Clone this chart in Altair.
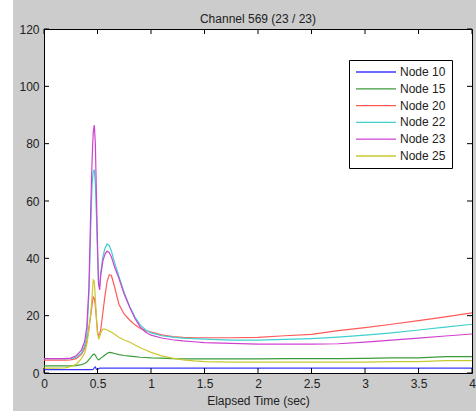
import altair as alt
import pandas as pd

# time grid (sec)
t = [0, 0.1, 0.2, 0.25, 0.3, 0.35, 0.38, 0.4, 0.42, 0.44, 0.45, 0.46, 0.47, 0.48, 0.49,
     0.5, 0.51, 0.52, 0.53, 0.55, 0.57, 0.59, 0.61, 0.63, 0.66, 0.7, 0.75, 0.8, 0.85,
     0.9, 0.95, 1.0, 1.1, 1.2, 1.3, 1.4, 1.5, 1.75, 2.0, 2.25, 2.5, 2.75, 3.0, 3.25,
     3.5, 3.75, 4.0]

node10 = [1.2, 1.2, 1.2, 1.2, 1.2, 1.2, 1.2, 1.2, 1.2, 1.2, 1.2, 1.3, 1.8, 2.1, 1.3,
          1.2, 1.5, 1.7, 1.7, 1.7, 1.7, 1.7, 1.7, 1.7, 1.7, 1.7, 1.7, 1.7, 1.7,
          1.7, 1.7, 1.7, 1.7, 1.7, 1.7, 1.7, 1.7, 1.7, 1.7, 1.7, 1.7, 1.7, 1.7, 1.7,
          1.7, 1.7, 1.7]
node15 = [2.5, 2.5, 2.5, 2.5, 2.6, 2.9, 3.3, 3.8, 4.7, 5.6, 6.1, 6.5, 6.6, 6.2, 5.5,
          4.9, 4.6, 4.8, 5.2, 5.7, 6.3, 6.9, 7.2, 7.1, 6.8, 6.4, 6.1, 5.9, 5.7,
          5.5, 5.4, 5.3, 5.2, 5.0, 4.9, 4.9, 4.9, 4.9, 4.9, 5.0, 5.0, 5.0, 5.1, 5.3,
          5.3, 5.7, 5.7]
node20 = [4.5, 4.5, 4.5, 4.6, 5.0, 6.5, 8.5, 11, 16, 21, 24, 26.5, 26, 23.5, 19,
          14.5, 13, 13.5, 15, 21, 27, 32, 34.3, 34, 30, 24, 20.5, 18.5, 16.8,
          15.5, 14.8, 14.3, 13.3, 12.7, 12.4, 12.3, 12.3, 12.3, 12.4, 13.0, 13.5, 14.8, 15.8, 17.0,
          18.3, 19.6, 21.0]
node22 = [5, 5, 5, 5, 5.5, 7, 9.5, 13, 28, 55, 66, 70, 71, 66, 55,
          42, 31, 30, 35, 40.5, 43.5, 45, 44.5, 42.5, 38.5, 33.7, 28, 23.3, 19.5,
          16.8, 15, 14, 13, 12.5, 12.2, 12, 11.8, 11.5, 11.5, 11.7, 12, 12.5, 13.2, 14,
          15, 16, 17]
node23 = [5, 5, 5, 5.2, 6, 8, 11, 16, 30, 62, 75, 84, 86.5, 80, 62,
          45, 31, 29, 34, 39, 41.5, 42.5, 42, 40.5, 37, 33, 27.5, 23, 19,
          16, 14.2, 13.2, 12.2, 11.6, 11.2, 10.9, 10.6, 10.3, 10.1, 10.1, 10.1, 10.2, 10.8, 11.5,
          12.2, 12.9, 13.6]
node25 = [1.7, 1.7, 1.8, 2.3, 3, 5, 7, 10, 15, 22, 27, 32.5, 32, 26, 19,
          14, 12, 12.5, 14, 15.3, 15.3, 15, 14.6, 14.2, 13.5, 12.5, 11.5, 10.8, 9.8,
          8.8, 8, 7.2, 6, 5.2, 4.6, 4.2, 4.0, 3.8, 3.8, 3.8, 3.8, 3.8, 3.8, 4.0,
          4.0, 4.3, 4.3]

series = ["Node 10", "Node 15", "Node 20", "Node 22", "Node 23", "Node 25"]
colors = ["#3a3aff", "#3c9c3c", "#ff5a5a", "#40d0d0", "#d040d0", "#c8c832"]
values = [node10, node15, node20, node22, node23, node25]

x_ticks = [0, 0.5, 1, 1.5, 2, 2.5, 3, 3.5, 4]
y_ticks = [0, 20, 40, 60, 80, 100, 120]

rows = []
for name, vals in zip(series, values):
    for i, (tt, v) in enumerate(zip(t, vals)):
        rows.append({"t": tt, "value": v, "node": name, "i": i})
df = pd.DataFrame(rows)

W, H = 428, 344
FONT = "Liberation Sans"

xscale = alt.Scale(domain=[0, 4], nice=False, zero=False)
yscale = alt.Scale(domain=[0, 120], nice=False)
x_axis = alt.Axis(values=x_ticks, tickSize=0, domain=False, grid=False, format="~g",
                  labelPadding=5, titlePadding=6, labelFlush=False)
y_axis = alt.Axis(values=y_ticks, tickSize=0, domain=False, grid=False, labelPadding=5)
XT = "Elapsed Time (sec)"

lines = alt.Chart(df).mark_line(strokeWidth=1.2, clip=True).encode(
    x=alt.X("t:Q", scale=xscale, title=XT, axis=x_axis),
    y=alt.Y("value:Q", scale=yscale, title=None, axis=y_axis),
    color=alt.Color("node:N", scale=alt.Scale(domain=series, range=colors),
                    legend=alt.Legend(title=None, orient="none", legendX=305, legendY=31,
                                      symbolType="M-1,0H7", symbolSize=100,
                                      symbolStrokeWidth=1.3, labelFontSize=12,
                                      labelFont=FONT, labelColor="#222",
                                      labelExpr="datum.label + '\u00a0\u00a0\u00a0'",
                                      strokeColor="#000", fillColor="#fff",
                                      padding=6, rowPadding=4.8, labelOffset=33)),
    order="i:Q",
)

xt = pd.DataFrame({"tick": x_ticks})
yt = pd.DataFrame({"tick": y_ticks})

bottom = alt.Chart(xt).mark_rule(color="#000").encode(
    x=alt.X("tick:Q", scale=xscale, title=XT, axis=x_axis), y=alt.value(H), y2=alt.value(H - 5))
top = alt.Chart(xt).mark_rule(color="#000").encode(
    x=alt.X("tick:Q", scale=xscale, title=XT, axis=x_axis), y=alt.value(0), y2=alt.value(5))
left = alt.Chart(yt).mark_rule(color="#000").encode(
    y=alt.Y("tick:Q", scale=yscale, title=None, axis=y_axis), x=alt.value(0), x2=alt.value(5))
right = alt.Chart(yt).mark_rule(color="#000").encode(
    y=alt.Y("tick:Q", scale=yscale, title=None, axis=y_axis), x=alt.value(W), x2=alt.value(W - 5))

strip = alt.Chart(pd.DataFrame({"a": [0]})).mark_rect(color="#ffffff", clip=False).encode(
    x=alt.value(-44), x2=alt.value(-31), y=alt.value(-29), y2=alt.value(H + 38))

chart = alt.layer(strip, lines, bottom, top, left, right).properties(
    width=W, height=H,
    title=alt.TitleParams("Channel 569 (23 / 23)", fontSize=12, font=FONT,
                          fontWeight="normal", color="#222", anchor="middle", offset=-26),
    background="#cccccc",
    padding={"left": 44, "top": 29, "right": 4, "bottom": 38},
    autosize=alt.AutoSizeParams(type="none"),
).configure_view(
    fill="#ffffff", stroke="#000000", strokeWidth=1
).configure_axis(
    labelFont=FONT, labelFontSize=12, labelColor="#222",
    titleFont=FONT, titleFontSize=12, titleColor="#222", titleFontWeight="normal"
)

chart.save("out.html", embed_options={"renderer": "svg", "actions": False})
